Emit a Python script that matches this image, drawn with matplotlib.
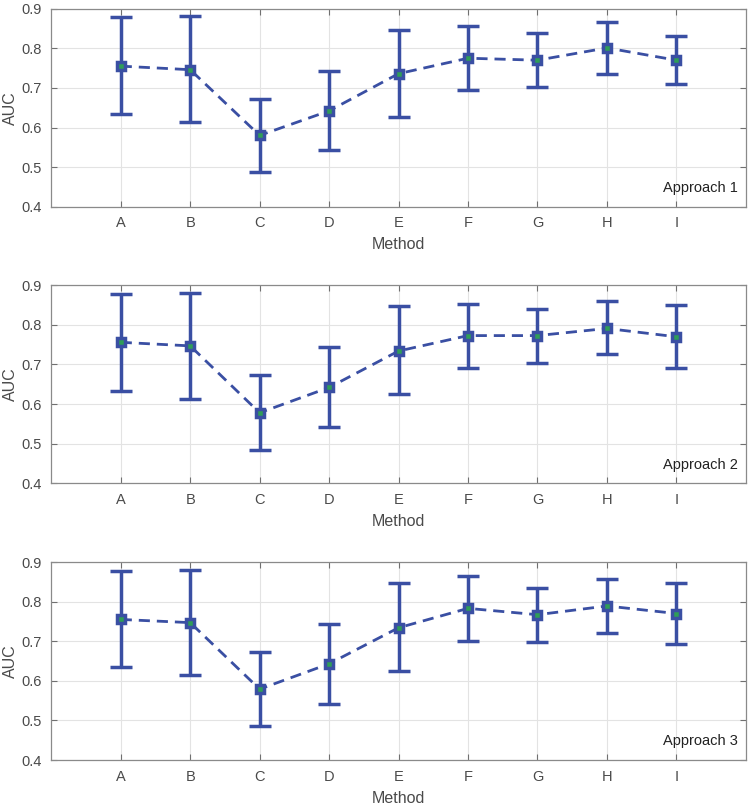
import matplotlib
matplotlib.use('Agg')
import matplotlib.pyplot as plt
import numpy as np

plt.rcParams['font.family'] = ['Liberation Sans', 'DejaVu Sans']

methods = ['A', 'B', 'C', 'D', 'E', 'F', 'G', 'H', 'I']
approaches = ['Approach 1', 'Approach 2', 'Approach 3']

# mean AUC, lower and upper bounds per approach
auc_mean = [
    [0.755, 0.746, 0.580, 0.642, 0.736, 0.775, 0.770, 0.801, 0.770],
    [0.756, 0.747, 0.578, 0.642, 0.734, 0.773, 0.773, 0.791, 0.770],
    [0.755, 0.747, 0.579, 0.643, 0.734, 0.783, 0.767, 0.789, 0.770],
]
auc_low = [
    [0.634, 0.614, 0.487, 0.542, 0.626, 0.695, 0.703, 0.735, 0.710],
    [0.634, 0.612, 0.485, 0.541, 0.625, 0.691, 0.705, 0.726, 0.692],
    [0.634, 0.614, 0.487, 0.542, 0.625, 0.701, 0.699, 0.722, 0.693],
]
auc_high = [
    [0.878, 0.881, 0.673, 0.743, 0.846, 0.856, 0.839, 0.867, 0.831],
    [0.879, 0.881, 0.673, 0.743, 0.847, 0.853, 0.839, 0.860, 0.850],
    [0.878, 0.880, 0.674, 0.743, 0.846, 0.866, 0.834, 0.856, 0.847],
]

blue = '#3a4fa3'
green = '#2f9e57'
text_col = '#4a4a4a'

fig = plt.figure(figsize=(7.5, 8.08), dpi=100)
bottoms = [0.7442, 0.4019, 0.0594]

x = np.arange(1, len(methods) + 1)
for i in range(3):
    ax = fig.add_axes([0.0684, bottoms[i], 0.926, 0.245])
    m = np.array(auc_mean[i])
    lo = m - np.array(auc_low[i])
    hi = np.array(auc_high[i]) - m
    line, caps, bars = ax.errorbar(x, m, yerr=[lo, hi], color=blue, ls='--', lw=2,
                                   elinewidth=2.5, capsize=8, capthick=2.5,
                                   marker='s', markersize=6, markerfacecolor=green,
                                   markeredgecolor=blue, markeredgewidth=2.5, zorder=3)
    line.set_dashes((4, 2.5))
    ax.set_xlim(0, 10)
    ax.set_ylim(0.4, 0.9)
    ax.set_xticks(x)
    ax.set_xticklabels(methods)
    ax.set_yticks([0.4, 0.5, 0.6, 0.7, 0.8, 0.9])
    ax.set_yticklabels(['0.4', '0.5', '0.6', '0.7', '0.8', '0.9'])
    ax.grid(True, color='#e3e3e3', lw=0.8)
    ax.set_axisbelow(True)
    ax.tick_params(direction='in', top=True, right=True, length=4,
                   color='#707070', labelcolor=text_col, labelsize=10.5,
                   pad=7)
    for s in ax.spines.values():
        s.set_color('#8a8a8a')
        s.set_linewidth(0.9)
    ax.set_xlabel('Method', fontsize=11.5, color=text_col, labelpad=5)
    ax.set_ylabel('AUC', fontsize=11.5, color=text_col, labelpad=2)
    ax.text(0.988, 0.094, approaches[i], transform=ax.transAxes,
            ha='right', va='center', fontsize=10.5, color='#222222')

fig.savefig('out.png', dpi=100)
